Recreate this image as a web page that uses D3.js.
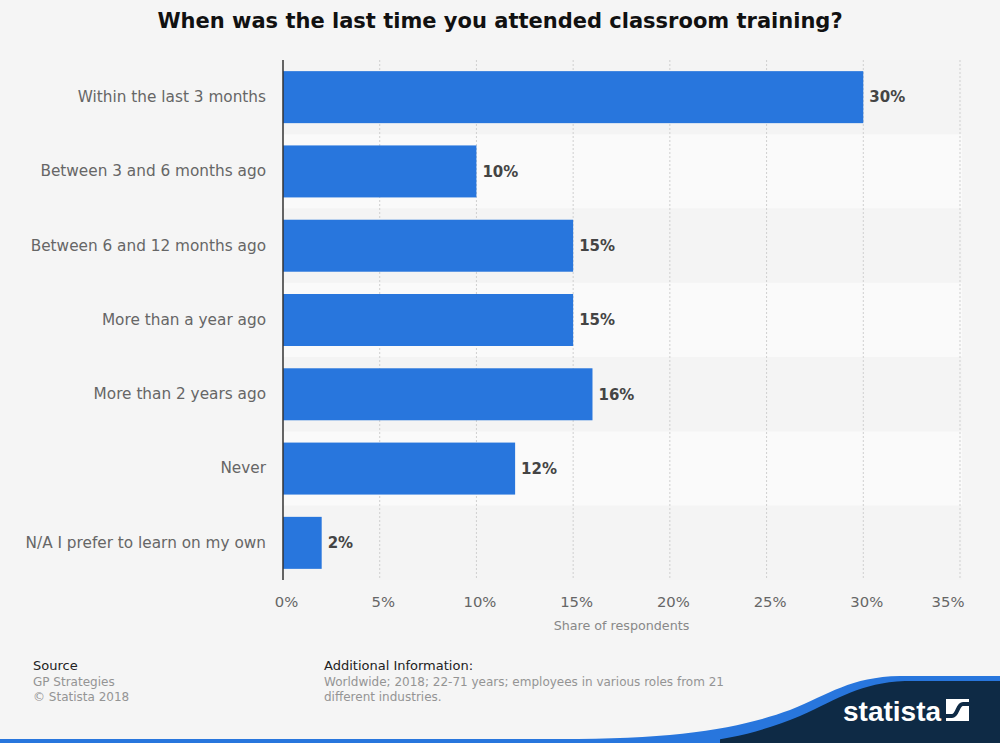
<!DOCTYPE html>
<html>
<head>
<meta charset="utf-8">
<script src="https://cdn.jsdelivr.net/npm/d3@7/dist/d3.min.js"></script>
<style>
  body { margin: 0; background: #f5f5f5; }
  svg { display: block; font-family: "DejaVu Sans", sans-serif; }
</style>
</head>
<body>
<svg id="chart" width="1000" height="743"></svg>
<script>
var categories = ["Within the last 3 months", "Between 3 and 6 months ago", "Between 6 and 12 months ago",
  "More than a year ago", "More than 2 years ago", "Never", "N/A I prefer to learn on my own"];
var shares = [30, 10, 15, 15, 16, 12, 2];
var xTicks = [0, 5, 10, 15, 20, 25, 30, 35];

var margin = { top: 60, right: 40, bottom: 163, left: 283 },
    width = 1000 - margin.left - margin.right,
    height = 743 - margin.top - margin.bottom;

var svg = d3.select("#chart");

svg.append("rect").attr("width", 1000).attr("height", 743).attr("fill", "#f5f5f5");

// title
svg.append("text")
  .attr("x", 500).attr("y", 28)
  .attr("text-anchor", "middle")
  .style("font-size", "21px").style("font-weight", "bold").style("fill", "#111")
  .text("When was the last time you attended classroom training?");

var x_scale = d3.scaleLinear().domain([0, 35]).range([0, 677]);
var y_scale = d3.scaleBand().domain(categories).range([0, height]).paddingInner(0.3).paddingOuter(0.15);
var rowScale = d3.scaleBand().domain(categories).range([0, height]);

var root = svg.append("g")
  .attr("transform", "translate(" + margin.left + "," + margin.top + ")");

// alternating row bands
root.selectAll(".row").data(categories).enter().append("rect")
  .attr("class", "row")
  .attr("x", 0).attr("width", x_scale(35) + 2)
  .attr("y", function (d) { return rowScale(d); })
  .attr("height", rowScale.bandwidth())
  .attr("fill", function (d, i) { return i % 2 ? "#fafafa" : "#f4f4f4"; });

// grid
root.selectAll(".grid").data(xTicks.slice(1)).enter().append("line")
  .attr("class", "grid")
  .attr("x1", function (d) { return x_scale(d); }).attr("x2", function (d) { return x_scale(d); })
  .attr("y1", 0).attr("y2", height)
  .attr("stroke", "#cfcfcf").attr("stroke-dasharray", "2,2");

// bars
root.selectAll(".bar").data(shares).enter().append("rect")
  .attr("class", "bar")
  .attr("x", 0)
  .attr("y", function (d, i) { return y_scale(categories[i]); })
  .attr("width", function (d) { return x_scale(d); })
  .attr("height", y_scale.bandwidth())
  .attr("fill", "#2876dd");

// value labels
root.selectAll(".val").data(shares).enter().append("text")
  .attr("class", "val")
  .attr("x", function (d) { return x_scale(d) + 6; })
  .attr("y", function (d, i) { return y_scale(categories[i]) + y_scale.bandwidth() / 2; })
  .attr("dy", "0.35em")
  .style("font-size", "15px").style("font-weight", "bold").style("fill", "#444")
  .text(function (d) { return d + "%"; });

// y axis
var yAxis = d3.axisLeft(y_scale).tickSize(0).tickPadding(17);
var yg = root.append("g").attr("class", "yAxis").call(yAxis);
yg.select(".domain").remove();
yg.selectAll("text").style("font-size", "15.3px").style("fill", "#666").style("font-family", "DejaVu Sans");

root.append("line").attr("x1", 0).attr("x2", 0).attr("y1", 0).attr("y2", height)
  .attr("stroke", "#333").attr("stroke-width", 1.5);

// x axis
var xAxis = d3.axisBottom(x_scale).tickValues(xTicks).tickSize(0).tickPadding(16)
  .tickFormat(function (d) { return d + "%"; });
var xg = root.append("g").attr("class", "xAxis")
  .attr("transform", "translate(0," + height + ")").call(xAxis);
xg.select(".domain").remove();
xg.selectAll("text").style("font-size", "14.8px").style("fill", "#666").style("font-family", "DejaVu Sans")
  .attr("dx", "3");
xg.selectAll("text").filter(function (d) { return d === 35; })
  .attr("text-anchor", "end").attr("dx", "4");

root.append("text")
  .attr("x", x_scale(17.5)).attr("y", height + 50)
  .attr("text-anchor", "middle")
  .style("font-size", "12.7px").style("fill", "#888")
  .text("Share of respondents");

// footer
var foot = svg.append("g").style("font-size", "12px");
foot.append("text").attr("x", 33).attr("y", 670).style("font-size", "13px").style("fill", "#222").text("Source");
foot.append("text").attr("x", 33).attr("y", 686).style("fill", "#949494").text("GP Strategies");
foot.append("text").attr("x", 33).attr("y", 701).style("fill", "#949494").text("\u00a9 Statista 2018");
foot.append("text").attr("x", 324).attr("y", 670).style("font-size", "13px").style("fill", "#222").text("Additional Information:");
foot.append("text").attr("x", 324).attr("y", 686).style("fill", "#949494").text("Worldwide; 2018; 22-71 years; employees in various roles from 21");
foot.append("text").attr("x", 324).attr("y", 701).style("fill", "#949494").text("different industries.");

// logo wave
svg.append("path")
  .attr("d", "M560,739 C680,739 740,728 790,710 C830,694 850,677 900,676 L1000,676 L1000,743 L560,743 Z")
  .attr("fill", "#2876dd");
svg.append("path")
  .attr("d", "M690,743 C735,739 768,729 800,716 C840,698 860,683 905,681 L1000,681 L1000,743 Z")
  .attr("fill", "#0e2a45");
svg.append("rect").attr("x", 0).attr("y", 739).attr("width", 720).attr("height", 4).attr("fill", "#2876dd");
svg.append("text").attr("x", 843).attr("y", 721)
  .style("font-family", "Liberation Sans Narrow, Liberation Sans, sans-serif")
  .style("font-size", "28px").style("font-weight", "bold").style("fill", "#fff")
  .text("statista");
svg.append("rect").attr("x", 946).attr("y", 699).attr("width", 23).attr("height", 22).attr("fill", "#fff");
svg.append("path").attr("d", "M945,716 H952 C958,716 957,704 963,704 H970")
  .attr("fill", "none").attr("stroke", "#0e2a45").attr("stroke-width", 4);
</script>
</body>
</html>
